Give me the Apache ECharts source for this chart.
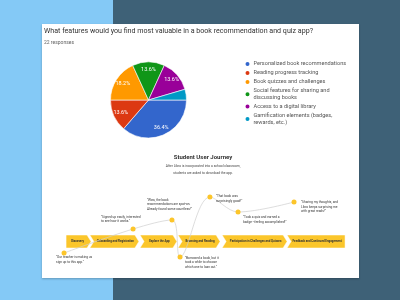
<!DOCTYPE html>
<html>
<head>
<meta charset="utf-8">
<script src="https://cdn.jsdelivr.net/npm/echarts@6/dist/echarts.min.js"></script>
<style>
  html, body { margin: 0; padding: 0; }
  #chart { width: 400px; height: 300px; }
</style>
</head>
<body>
<div id="chart"></div>
<script>
// Survey question data (22 responses)
const questionTitle = 'What features would you find most valuable in a book recommendation and quiz app?';
const responseCount = 22;
const featureNames = [
  'Personalized book recommendations',
  'Reading progress tracking',
  'Book quizzes and challenges',
  'Social features for sharing and discussing books',
  'Access to a digital library',
  'Gamification elements (badges, rewards, etc.)'
];
const featureVotes = [8, 3, 4, 3, 3, 1];
const featureColors = ['#3366cc', '#dc3912', '#ff9900', '#109618', '#990099', '#0099c6'];

// Journey map data
const journeyTitle = 'Student User Journey';
const journeyIntro = 'After Libro is incorporated into a school classroom,\nstudents are asked to download the app.';
const stageNames = [
  'Discovery',
  'Onboarding and Registration',
  'Explore the App',
  'Browsing and Reading',
  'Participation in Challenges and Quizzes',
  'Feedback and Continued Engagement'
];
const stageStart = [0.21, 1.03, 2.76, 4.07, 5.59, 7.83];
const stageEnd = [1.07, 2.72, 4.03, 5.52, 7.83, 9.83];
const momentProgress = [0.14, 2.52, 3.86, 4.14, 5.17, 6.14, 8.07];
const momentFeeling = [-1.15, 1.25, 2.15, -1.55, 4.45, 2.95, 3.95];
const momentQuotes = [
  '"Our teacher is making us\nsign up to this app."',
  '"Signed up easily, interested\nto see how it works."',
  '"Wow, the book\nrecommendations are spot-on.\nAlready found some countless!"',
  '"Borrowed a book, but it\ntook a while to choose\nwhich one to loan out."',
  '"That book was\nsurprisingly good!"',
  '"Took a quiz and earned a\nbadge - feeling accomplished!"',
  '"Sharing my thoughts, and\nLibro keeps surprising me\nwith great reads!"'
];

// where each quote sits next to its dot
const quoteOffsets = [[-5.5, 4.5], [-29.5, -12], [-22.5, -20], [7.5, 1], [8.5, -0.7], [7.5, 5.3], [9.5, 0.3]];

const legendWrap = {
  'Social features for sharing and discussing books': 'Social features for sharing and\ndiscussing books',
  'Gamification elements (badges, rewards, etc.)': 'Gamification elements (badges,\nrewards, etc.)'
};

const chart = echarts.init(document.getElementById('chart'), null, { renderer: 'canvas' });

const pieData = featureNames.map((name, i) => ({
  name: name,
  value: featureVotes[i],
  itemStyle: { color: featureColors[i] }
}));

function pct(v) {
  return (v / responseCount * 100).toFixed(1) + '%';
}

const option = {
  animation: false,
  textStyle: { fontFamily: 'Roboto, Arial, sans-serif' },
  graphic: [
    { type: 'rect', z: -10, shape: { x: 0, y: 0, width: 113, height: 300 }, style: { fill: '#84c9f6' } },
    { type: 'rect', z: -10, shape: { x: 113, y: 0, width: 287, height: 300 }, style: { fill: '#3e6177' } },
    {
      type: 'rect', z: -5, shape: { x: 42, y: 24, width: 317, height: 254 },
      style: { fill: '#ffffff', shadowBlur: 2, shadowColor: 'rgba(0,0,0,0.25)', shadowOffsetY: 1 }
    },
    {
      type: 'text', z: 10, x: 44, y: 31,
      style: { text: questionTitle, fill: '#333', fontSize: 7.1, fontFamily: 'Roboto, Arial', textVerticalAlign: 'middle' }
    },
    {
      type: 'text', z: 10, x: 44, y: 42.5,
      style: { text: responseCount + ' responses', fill: '#666', fontSize: 5, fontFamily: 'Roboto, Arial', textVerticalAlign: 'middle' }
    },
    {
      type: 'text', z: 10, x: 203, y: 157,
      style: { text: journeyTitle, fill: '#333', fontSize: 6, fontWeight: 'bold', fontFamily: 'Roboto, Arial', textAlign: 'center', textVerticalAlign: 'middle' }
    },
    {
      type: 'text', z: 10, x: 203, y: 169.5,
      style: { text: journeyIntro, fill: '#444', fontSize: 3.3, lineHeight: 6.5, fontFamily: 'Roboto, Arial', textAlign: 'center', textVerticalAlign: 'middle' }
    }
  ],
  legend: {
    orient: 'vertical',
    left: 243.5,
    top: 60,
    icon: 'circle',
    itemWidth: 6,
    itemHeight: 6,
    itemGap: 1,
    padding: 0,
    data: featureNames,
    formatter: name => legendWrap[name] || name,
    textStyle: { fontSize: 5.6, lineHeight: 7.3, color: '#555', padding: [0, 0, 0, -2] }
  },
  grid: { left: 60, top: 191.5, width: 290, height: 70 },
  xAxis: { type: 'value', min: 0, max: 10, show: false },
  yAxis: { type: 'value', min: -2, max: 5, show: false },
  series: [
    {
      type: 'pie',
      center: [148.5, 100],
      radius: [0, 38],
      startAngle: 0,
      clockwise: true,
      data: pieData,
      itemStyle: { borderColor: '#fff', borderWidth: 0.6 },
      label: { show: false },
      labelLine: { show: false },
      silent: true
    },
    {
      // second ring only carries the percentage labels further out
      type: 'pie',
      center: [148.5, 100],
      radius: [17, 38],
      startAngle: 0,
      clockwise: true,
      data: featureNames.map((name, i) => ({ name: name, value: featureVotes[i] })),
      itemStyle: { color: 'rgba(0,0,0,0)' },
      label: {
        show: true,
        position: 'inside',
        color: '#fff',
        fontSize: 5.5,
        formatter: p => (p.value / responseCount < 0.05 ? '' : pct(p.value))
      },
      labelLine: { show: false },
      silent: true
    },
    {
      type: 'custom',
      data: stageNames.map((name, i) => [stageStart[i], stageEnd[i], name]),
      z: 2,
      renderItem: (params, api) => {
        const i = params.dataIndex;
        const a = api.coord([api.value(0), 0]);
        const b = api.coord([api.value(1), 0]);
        const h = 6.5, d = 4;
        const last = i === stageNames.length - 1;
        const first = i === 0;
        const xl = a[0], xr = b[0], yc = a[1];
        const pts = [
          [xl, yc - h],
          [last ? xr : xr - d, yc - h],
          [xr, last ? yc - h : yc],
          [last ? xr : xr - d, yc + h],
          [xl, yc + h],
          [first ? xl : xl + d, yc]
        ];
        if (last) pts.splice(2, 1);
        return {
          type: 'group',
          children: [
            { type: 'polygon', shape: { points: pts }, style: { fill: '#fbc62b', stroke: '#fff', lineWidth: 0.5 } },
            {
              type: 'text',
              style: {
                text: api.value(2),
                x: (xl + xr) / 2 + (first ? -1 : 1),
                y: yc,
                fill: '#333',
                fontSize: 2.9,
                fontWeight: 'bold',
                fontFamily: 'Roboto, Arial',
                textAlign: 'center',
                textVerticalAlign: 'middle'
              }
            }
          ]
        };
      }
    },
    {
      type: 'line',
      z: 3,
      smooth: 0.35,
      symbol: 'circle',
      symbolSize: 5,
      lineStyle: { color: '#cfcfcf', width: 0.7 },
      itemStyle: { color: '#fcc52a' },
      data: momentProgress.map((x, i) => ({
        value: [x, momentFeeling[i]],
        label: {
          show: true,
          position: quoteOffsets[i],
          align: 'left',
          verticalAlign: 'top',
          formatter: momentQuotes[i],
          fontSize: 3.2,
          lineHeight: 4.6,
          color: '#333'
        }
      })),
      silent: true
    }
  ]
};

chart.setOption(option);
</script>
</body>
</html>
